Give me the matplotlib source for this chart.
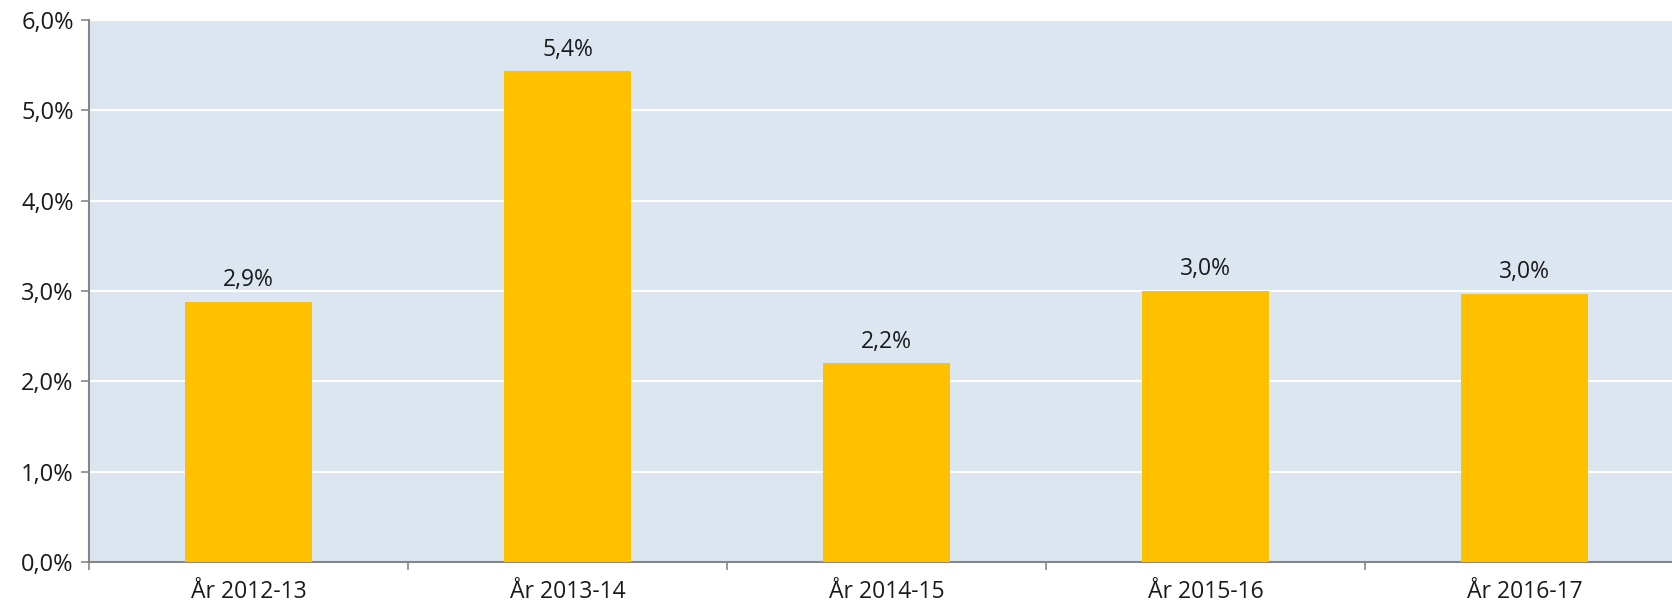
import matplotlib.pyplot as plt
import numpy as np

plt.rcParams['font.family'] = ['Open Sans', 'DejaVu Sans']

categories = ["År 2012-13", "År 2013-14", "År 2014-15", "År 2015-16", "År 2016-17"]
values = [2.88, 5.43, 2.20, 3.00, 2.97]
labels = ["2,9%", "5,4%", "2,2%", "3,0%", "3,0%"]
yticks = [0, 1, 2, 3, 4, 5, 6]

fig = plt.figure(figsize=(16.72, 6.09), dpi=100)
# axes runs a little past the right edge like the original crop
ax = fig.add_axes([89 / 1672, 1 - 562 / 609, 1595 / 1672, 542 / 609])
ax.set_facecolor('#DCE6F1')

x = np.arange(len(categories))
bars = ax.bar(x, values, width=0.4, color='#FFC000', zorder=3)
for b, lab in zip(bars, labels):
    ax.annotate(lab, (b.get_x() + b.get_width() / 2, b.get_height()),
                xytext=(0, 7), textcoords='offset points',
                ha='center', va='bottom', fontsize=16.5, color='#1a1a1a')

ax.set_xlim(-0.5, len(categories) - 0.5)
ax.set_ylim(0, 6)
ax.set_yticks(yticks)
ax.set_yticklabels([f"{t},0%" for t in yticks], fontsize=17, color='#1a1a1a')
ax.yaxis.grid(True, color='white', linewidth=1.5, zorder=1)
ax.set_axisbelow(True)

ax.set_xticks(x)
ax.set_xticklabels(categories, fontsize=16.5, color='#1a1a1a')
ax.set_xticks(np.arange(len(categories) + 1) - 0.5, minor=True)
ax.tick_params(axis='x', which='major', length=0, pad=13)
ax.tick_params(axis='x', which='minor', length=6, color='#868686', width=1.2)
ax.tick_params(axis='y', length=6, color='#868686', width=1.2, pad=5)

for s in ['top', 'right']:
    ax.spines[s].set_visible(False)
for s in ['left', 'bottom']:
    ax.spines[s].set_color('#868686')
    ax.spines[s].set_linewidth(1.5)

fig.savefig('out.png', dpi=100)
